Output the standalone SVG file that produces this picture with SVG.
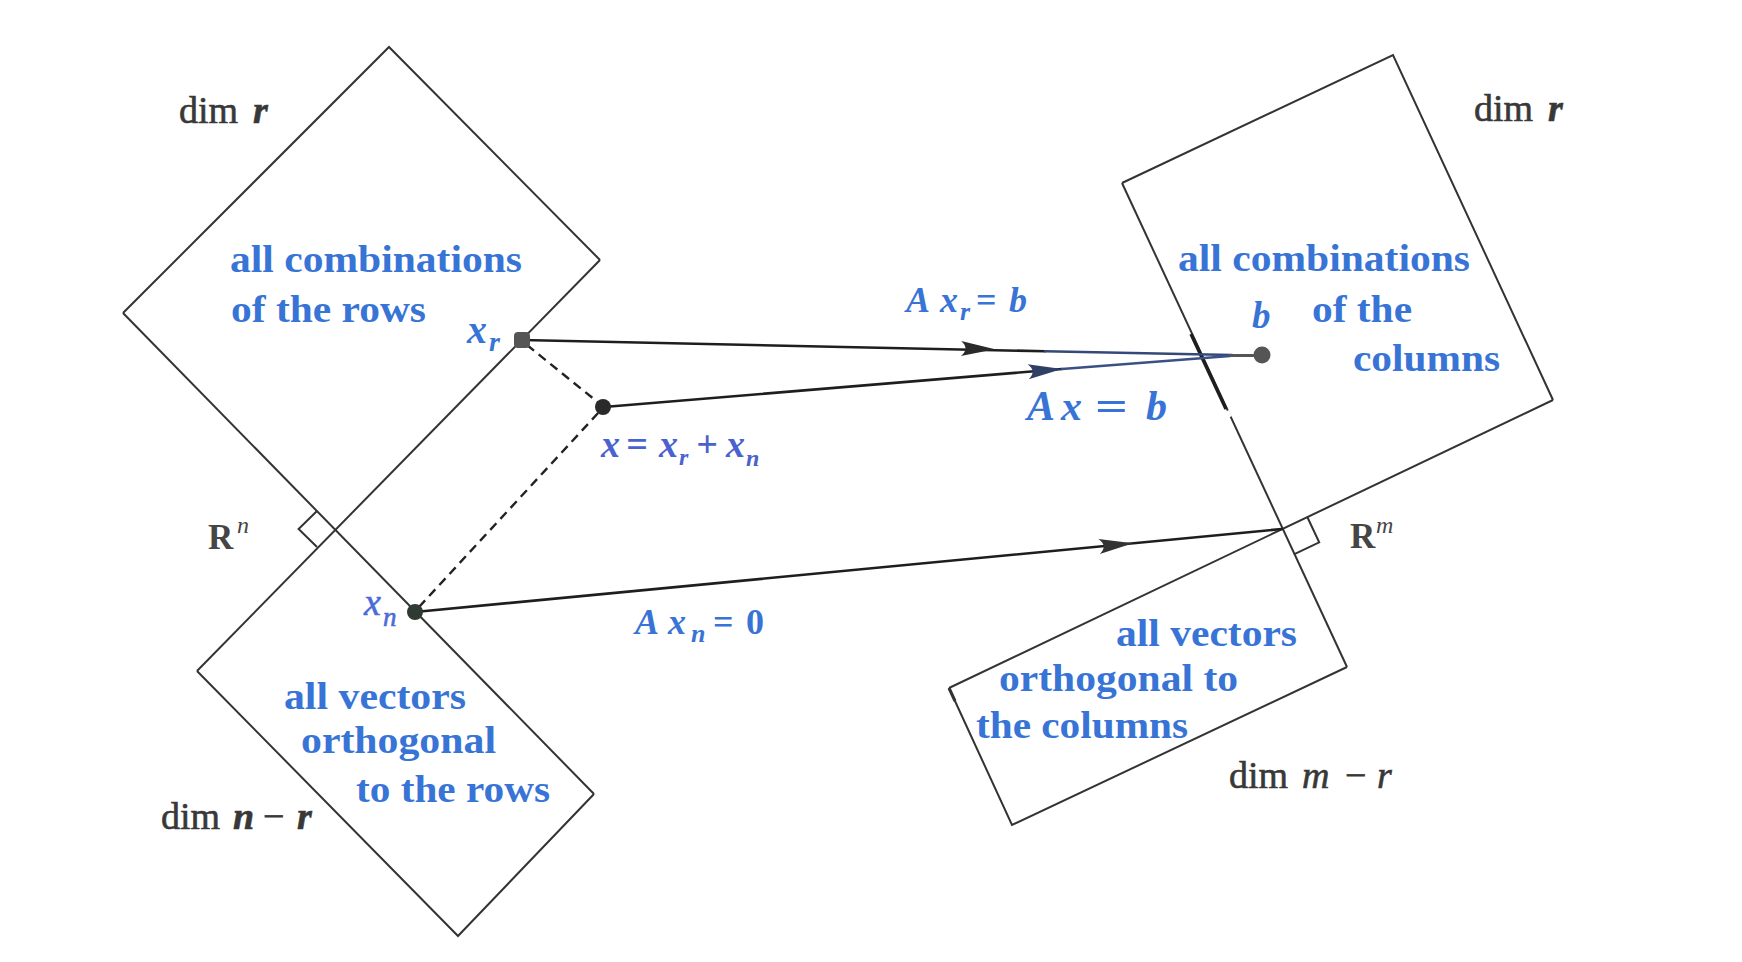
<svg xmlns="http://www.w3.org/2000/svg" width="1742" height="962" viewBox="0 0 1742 962">
<style>
.edge{fill:none;stroke:#333;stroke-width:2;stroke-linejoin:miter}
.arr{fill:none;stroke:#1e1e1e;stroke-width:2.6;stroke-linecap:round}
.dash{fill:none;stroke:#222;stroke-width:2.4;stroke-dasharray:9 6}
.blue{font-family:"Liberation Serif","Times New Roman",serif;font-weight:bold;font-size:38px;fill:#3874d6}
.gray{font-family:"Liberation Serif","Times New Roman",serif;font-size:38px;fill:#383838;stroke:#383838;stroke-width:0.6}
.bi{font-weight:bold;font-style:italic}
.it{font-style:italic}
.math{font-family:"Liberation Serif","Times New Roman",serif;font-weight:bold;font-style:italic;fill:#3874d6}
.mathl{font-family:"Liberation Serif","Times New Roman",serif;font-weight:bold;font-style:italic;fill:#4a62d0}
.head{fill:#2a2a2a;stroke:none}
</style>
<defs>
<path id="ah" d="M0,0 L-34,-7.5 Q-25,0 -34,7.5 Z"/>
</defs>
<rect x="0" y="0" width="1742" height="962" fill="#ffffff"/>

<g id="row-space">
<path class="edge" d="M123,313 L389,47 L600,260"/>
<text class="blue" x="230" y="272" textLength="292" lengthAdjust="spacingAndGlyphs">all combinations</text>
<text class="blue" x="231" y="322" textLength="195" lengthAdjust="spacingAndGlyphs">of the rows</text>
<text class="gray" x="179" y="123">dim<tspan x="253" class="bi">r</tspan></text>
</g>

<g id="null-space">
<path class="edge" d="M197,671 L458,936 L594,794"/>
<text class="blue" x="284" y="709" textLength="182" lengthAdjust="spacingAndGlyphs">all vectors</text>
<text class="blue" x="301" y="753" textLength="195" lengthAdjust="spacingAndGlyphs">orthogonal</text>
<text class="blue" x="356" y="802" textLength="194" lengthAdjust="spacingAndGlyphs">to the rows</text>
<text class="gray" x="161" y="829">dim<tspan x="233" class="bi">n</tspan><tspan x="263">−</tspan><tspan x="297" class="bi">r</tspan></text>
</g>

<g id="rn-axes">
<path class="edge" d="M123,313 L594,794"/>
<path class="edge" d="M600,260 L197,671"/>
<path class="edge" d="M317,511 L298.6,529 L317,547"/>
<text x="208" y="549" style="font-family:'Liberation Serif',serif;font-weight:bold;font-size:35px;fill:#454545">R<tspan x="237" y="533" style="font-weight:normal;font-style:italic;font-size:24px">n</tspan></text>
</g>

<g id="column-space">
<path class="edge" d="M1122,183 L1393,55 L1553,400"/>
<text class="blue" x="1178" y="271" textLength="292" lengthAdjust="spacingAndGlyphs">all combinations</text>
<text class="blue" x="1312" y="322" textLength="100" lengthAdjust="spacingAndGlyphs">of the</text>
<text class="blue" x="1353" y="371" textLength="147" lengthAdjust="spacingAndGlyphs">columns</text>
<text class="gray" x="1474" y="121">dim<tspan x="1548" class="bi">r</tspan></text>
</g>

<g id="left-null-space">
<path class="edge" d="M949,688 L1012,825 L1347,667"/>
<text class="blue" x="1116" y="646" textLength="181" lengthAdjust="spacingAndGlyphs">all vectors</text>
<text class="blue" x="999" y="691" textLength="239" lengthAdjust="spacingAndGlyphs">orthogonal to</text>
<text class="blue" x="976" y="738" textLength="212" lengthAdjust="spacingAndGlyphs">the columns</text>
<text class="gray" x="1229" y="788">dim<tspan x="1302" class="it">m</tspan><tspan x="1345">−</tspan><tspan x="1377" class="it">r</tspan></text>
</g>

<g id="rm-axes">
<path class="edge" d="M1122,183 L1347,667"/>
<path class="edge" d="M1553,400 L949,688"/>
<path d="M1191,334 L1226,409" fill="none" stroke="#1e1e1e" stroke-width="3.4"/>
<path d="M1227,411 L1230,417" fill="none" stroke="#ffffff" stroke-width="4"/>
<path class="edge" d="M949,688 L955,701" style="stroke-width:3"/>
<path class="edge" d="M1307.3,517 L1319.2,542.3 L1293.9,554.3"/>
<text x="1350" y="548" style="font-family:'Liberation Serif',serif;font-weight:bold;font-size:35px;fill:#454545">R<tspan x="1376" y="533" style="font-weight:normal;font-style:italic;font-size:24px">m</tspan></text>
</g>

<g id="connectors">
<path class="dash" d="M527,345 L600,404"/>
<path class="dash" d="M419,607 L600,411"/>
<path class="arr" d="M522,340 L1045,351.3"/>
<path class="arr" d="M1045,351.3 L1232,355" style="stroke:#36487a"/>
<path class="arr" d="M604,407 L1062,369"/>
<path class="arr" d="M1062,369 L1230,356" style="stroke:#3a5186"/>
<path class="arr" d="M1230,355.5 L1262,355.5" style="stroke:#555;stroke-width:3.2"/>
<path class="arr" d="M415,612 L1282,529"/>
<use href="#ah" class="head" transform="translate(995,349.3) rotate(1.16)"/>
<use href="#ah" transform="translate(1062,369) rotate(-4.52)" style="fill:#2f3f66"/>
<use href="#ah" class="head" transform="translate(1133,543.3) rotate(-5.46)" style="fill:#333"/>
</g>

<g id="point-xr">
<rect x="514" y="332" width="16" height="16" rx="4" fill="#555"/>
<text class="math" x="467" y="343" font-size="40">x<tspan x="489" y="351" font-size="28">r</tspan></text>
</g>

<g id="point-x">
<circle cx="603" cy="407" r="8" fill="#2a2a2a"/>
<text class="mathl" x="601" y="457" font-size="38" style="font-weight:600">x<tspan x="626">=</tspan><tspan x="659">x</tspan><tspan x="679" y="465" font-size="24">r</tspan><tspan x="696" y="457">+</tspan><tspan x="726">x</tspan><tspan x="746" y="466" font-size="24">n</tspan></text>
</g>

<g id="point-xn">
<circle cx="415" cy="612" r="8" fill="#2f3b32"/>
<text class="mathl" x="364" y="615" font-size="38" style="fill:#4c6ad8;font-weight:normal;stroke:#4c6ad8;stroke-width:0.6">x<tspan x="383" y="626" font-size="27">n</tspan></text>
</g>

<g id="point-b">
<circle cx="1262" cy="355" r="8.5" fill="#555"/>
<text class="math" x="1252" y="328" font-size="37">b</text>
</g>

<g id="labels">
<text class="math" x="906" y="312" font-size="36">A<tspan x="940">x</tspan><tspan x="960" y="320" font-size="26">r</tspan><tspan x="976" y="312" style="font-style:normal">=</tspan><tspan x="1009">b</tspan></text>
<text class="math" x="1027" y="420" font-size="42">A<tspan x="1061">x</tspan><tspan x="1146">b</tspan></text>
<text class="math" x="1095" y="420" font-size="42" style="font-style:normal" textLength="33" lengthAdjust="spacingAndGlyphs">=</text>
<text class="math" x="635" y="634" font-size="36">A<tspan x="668">x</tspan><tspan x="691" y="642" font-size="26">n</tspan><tspan x="713" y="634" style="font-style:normal">=</tspan><tspan x="746" style="font-style:normal">0</tspan></text>
</g>
</svg>
